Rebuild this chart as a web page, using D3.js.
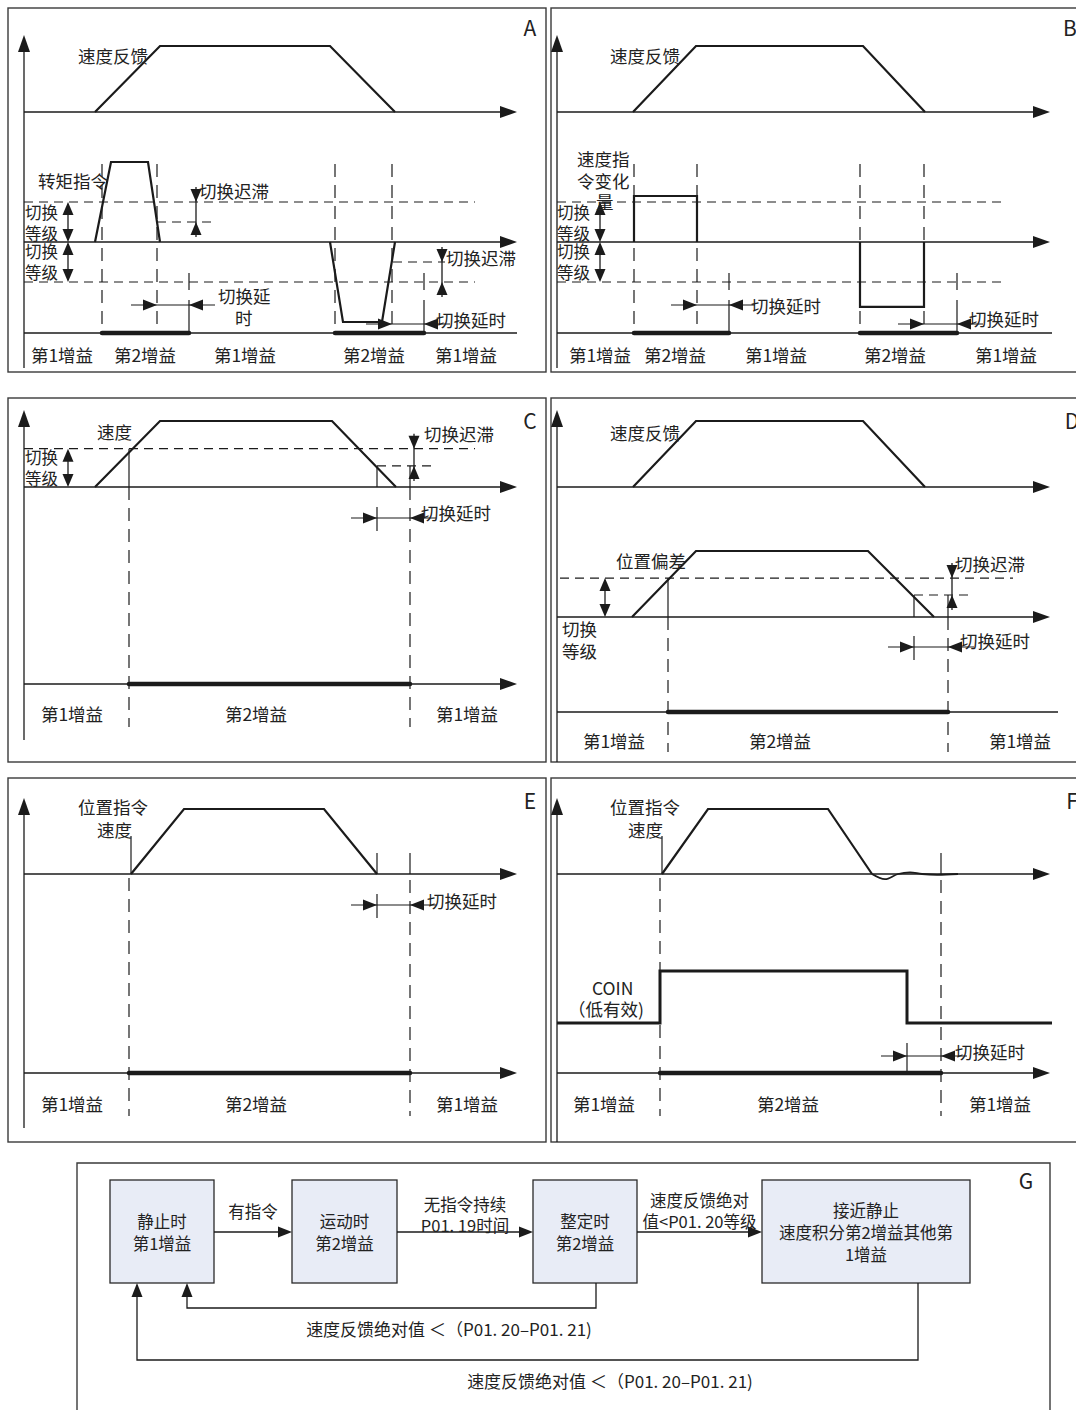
<!DOCTYPE html>
<html><head><meta charset="utf-8">
<script src="https://cdn.jsdelivr.net/npm/d3@7"></script>
<style>
body{margin:0;background:#fff}
svg{display:block}
text{font-family:"Noto Sans CJK SC","Noto Sans",sans-serif;fill:#222}
</style>
</head><body><script>
// ---------------- DATA (time t, signal value) ----------------
// Panel A
const speedA = [[71,0],[136,1],[306,1],[371,0]];
const torqueUpA = [[71,0],[87,1],[124,1],[136,0]];
const torqueDownA = [[306,0],[319,-1],[358,-1],[371,0]];
const levelsA = [0.5,-0.5];
const hystA = [[0.25,133,189],[-0.25,369,421]];
const vdashA = [78,133,311,368];
const vdashShortA = [165,400];
const gain2A = [[78,165],[311,400]];
const delayA = [[133,165],[368,400]];
const gainTextA = ["第1增益","第2增益","第1增益","第2增益","第1增益"];
const gainPosA = [38,121,221,350,442];
// Panel B
const speedB = [[76,0],[139,1],[306,1],[368,0]];
const cmdUpB = [[77,0],[77,0.575],[140,0.575],[140,0]];
const cmdDownB = [[303,0],[303,-0.81],[367,-0.81],[367,0]];
const levelsB = [0.5,-0.5];
const vdashB = [77,140,303,367];
const vdashShortB = [172,400];
const gain2B = [[77,172],[303,400]];
const delayB = [[140,172],[367,400]];
const gainTextB = ["第1增益","第2增益","第1增益","第2增益","第1增益"];
const gainPosB = [43,118,219,338,449];
// Panel C
const speedC = [[71,0],[136,1],[308,1],[372,0]];
const levelC = 0.58, hystC = 0.32;
const hystSpanC = [353,407];
const switchC = [105,386];
const delayC = [[353,386]];
const gain2C = [[105,386]];
const gainTextC = ["第1增益","第2增益","第1增益"];
const gainPosC = [48,232,443];
// Panel D
const speedD = [[76,0],[139,1],[306,1],[368,0]];
const posErrD = [[75,0],[139,1],[311,1],[377,0]];
const levelD = 0.59, hystD = 0.333;
const hystSpanD = [357,411];
const switchD = [111,391];
const delayD = [[357,391]];
const gain2D = [[111,391]];
const gainTextD = ["第1增益","第2增益","第1增益"];
const gainPosD = [57,223,463];
// Panel E
const speedE = [[107,0],[160,1],[300,1],[353,0]];
const switchE = [105,386];
const delayE = [[353,386]];
const gain2E = [[105,386]];
const gainTextE = ["第1增益","第2增益","第1增益"];
const gainPosE = [48,232,443];
// Panel F
const speedF = [[105,0],[151,1],[271,1],[315,0]];
const waveF = [[315,0],[328,-0.08],[341,0],[353,0.025],[365,0],[380,-0.012],[401,0]];
const coinF = [[0,0],[103,0],[103,1],[350,1],[350,0],[495,0]];
const switchF = [103,384];
const delayF = [[350,384]];
const gain2F = [[103,384]];
const gainTextF = ["第1增益","第2增益","第1增益"];
const gainPosF = [47,231,443];
// Panel G
const boxLines = [["静止时","第1增益"],["运动时","第2增益"],["整定时","第2增益"],["接近静止","速度积分第2增益其他第","1增益"]];
const flowLabels = [["有指令"],["无指令持续","P01. 19时间"],["速度反馈绝对","值<P01. 20等级"]];
const returnLabels = ["速度反馈绝对值 ＜（P01. 20–P01. 21)","速度反馈绝对值 ＜（P01. 20–P01. 21)"];

// ---------------- DRAWING ----------------
const svg = d3.select("body").append("svg").attr("width",1076).attr("height",1410);
const INK = "#1b1b1b";
const FS = 17.5, FSS = 16.5;

const xs = x0 => d3.scaleLinear().domain([0,500]).range([x0,x0+500]);
const ys = (base,top) => d3.scaleLinear().domain([0,1]).range([base,top]);

function poly(g, pts, xS, yS, w, curve){
  const gen = d3.line().x(d=>xS(d[0])).y(d=>yS(d[1]));
  if(curve) gen.curve(curve);
  g.append("path").attr("d",gen(pts)).attr("fill","none").attr("stroke",INK)
   .attr("stroke-width",w).attr("stroke-linejoin","miter");
}
function seg(g,x1,y1,x2,y2,w,dash,color){
  const l = g.append("line").attr("x1",x1).attr("y1",y1).attr("x2",x2).attr("y2",y2)
   .attr("stroke",color||INK).attr("stroke-width",w||1.2);
  if(dash) l.attr("stroke-dasharray",dash);
  return l;
}
function head(g,x,y,dir,len,hw){
  len=len||13; hw=hw||5;
  let p;
  if(dir==="r") p=[[x,y],[x-len,y-hw],[x-len,y+hw]];
  if(dir==="l") p=[[x,y],[x+len,y-hw],[x+len,y+hw]];
  if(dir==="u") p=[[x,y],[x-hw,y+len],[x+hw,y+len]];
  if(dir==="d") p=[[x,y],[x-hw,y-len],[x+hw,y-len]];
  g.append("path").attr("d","M"+p.map(q=>q.join(",")).join("L")+"Z").attr("fill",INK);
}
function txt(g,s,x,y,anchor,size){
  g.append("text").attr("x",x).attr("y",y).attr("dominant-baseline","central")
   .attr("text-anchor",anchor||"start").attr("font-size",size||FS).text(s);
}
function axisH(g,x1,x2,y,arrow){
  seg(g,x1,y,arrow?x2-8:x2,y,1.3);
  if(arrow) head(g,x2,y,"r",17,6);
}
function yAxis(g,x,yb,yt){
  seg(g,x,yb,x,yt+8,1.3);
  head(g,x,yt,"u",17,6);
}
function border(g,x,y,w,h){
  g.append("rect").attr("x",x).attr("y",y).attr("width",w).attr("height",h)
   .attr("fill","none").attr("stroke","#3a3a3a").attr("stroke-width",1.4);
}
function gainBars(g,bars,xS,y){
  bars.forEach(b=>seg(g,xS(b[0]),y,xS(b[1]),y,4.5).attr("stroke-linecap","round"));
}
function gainTexts(g,texts,pos,xS,y){
  texts.forEach((s,i)=>txt(g,s,xS(pos[i]),y,"middle"));
}
function delay(g,t1,t2,xS,y){
  const a=xS(t1), b=xS(t2);
  seg(g,a-26,y,b+26,y,1.2);
  head(g,a,y,"r",14,5.5);
  head(g,b,y,"l",14,5.5);
}
function dimOut(g,x,y1,y2){
  seg(g,x,y1+6,x,y2-6,1.3);
  head(g,x,y1,"u",13,5.5);
  head(g,x,y2,"d",13,5.5);
}
function dimIn(g,x,yTop,yBot){
  seg(g,x,yTop-15,x,yBot+15,1.3);
  head(g,x,yTop,"d",13,5.5);
  head(g,x,yBot,"u",13,5.5);
}
const HD = "9,6", VD = "13,8";

// ===== Panel A =====
{
  const g = svg.append("g");
  border(g,8,8,538,364);
  const x = xs(24), y1 = ys(112,46), y2 = ys(242,162), yb = 333;
  yAxis(g,24,368,35);
  axisH(g,24,517,112,true); axisH(g,24,517,242,true); axisH(g,24,517,yb,false);
  levelsA.forEach(v=>seg(g,x(0),y2(v),x(451),y2(v),1.2,HD));
  hystA.forEach(h=>seg(g,x(h[1]),y2(h[0]),x(h[2]),y2(h[0]),1.2,HD));
  vdashA.forEach(t=>seg(g,x(t),164,x(t),yb,1.2,VD));
  vdashShortA.forEach(t=>seg(g,x(t),273,x(t),yb,1.2,"17,10,40"));
  poly(g,speedA,x,y1,2.2);
  poly(g,torqueUpA,x,y2,2.2);
  poly(g,torqueDownA,x,y2,2.2);
  gainBars(g,gain2A,x,yb);
  dimOut(g,68,y2(0.5),y2(0));
  dimOut(g,68,y2(0),y2(-0.5));
  dimIn(g,196,y2(0.5),y2(0.25));
  dimIn(g,442,y2(-0.25),y2(-0.5));
  delay(g,delayA[0][0],delayA[0][1],x,305);
  delay(g,delayA[1][0],delayA[1][1],x,324);
  txt(g,"速度反馈",78,55);
  txt(g,"转矩指令",38,180);
  txt(g,"切换迟滞",199,190);
  txt(g,"切换",25,212,"start",FSS); txt(g,"等级",25,233,"start",FSS);
  txt(g,"切换",25,251,"start",FSS); txt(g,"等级",25,272,"start",FSS);
  txt(g,"切换延",218,295); txt(g,"时",235,317);
  txt(g,"切换迟滞",446,257);
  txt(g,"切换延时",436,319);
  gainTexts(g,gainTextA,gainPosA,x,354);
  txt(g,"A",530,27,"middle",21);
}
// ===== Panel B =====
{
  const g = svg.append("g");
  border(g,551,8,540,364);
  const x = xs(557), y1 = ys(112,46), y2 = ys(242,162), yb = 333;
  yAxis(g,557,368,35);
  axisH(g,557,1050,112,true); axisH(g,557,1050,242,true); axisH(g,557,1052,yb,false);
  levelsB.forEach(v=>seg(g,x(0),y2(v),x(449),y2(v),1.2,HD));
  vdashB.forEach(t=>seg(g,x(t),164,x(t),yb,1.2,VD));
  vdashShortB.forEach(t=>seg(g,x(t),273,x(t),yb,1.2,"17,10,40"));
  poly(g,speedB,x,y1,2.2);
  poly(g,cmdUpB,x,y2,2.2);
  poly(g,cmdDownB,x,y2,2.2);
  gainBars(g,gain2B,x,yb);
  dimOut(g,600,y2(0.5),y2(0));
  dimOut(g,600,y2(0),y2(-0.5));
  delay(g,delayB[0][0],delayB[0][1],x,305);
  delay(g,delayB[1][0],delayB[1][1],x,324);
  txt(g,"速度反馈",610,55);
  txt(g,"速度指",577,158); txt(g,"令变化",577,180); txt(g,"量",596,201);
  txt(g,"切换",557,212,"start",FSS); txt(g,"等级",557,233,"start",FSS);
  txt(g,"切换",557,251,"start",FSS); txt(g,"等级",557,272,"start",FSS);
  txt(g,"切换延时",751,305);
  txt(g,"切换延时",969,318);
  gainTexts(g,gainTextB,gainPosB,x,354);
  txt(g,"B",1070,27,"middle",21);
}
// ===== Panel C =====
{
  const g = svg.append("g");
  border(g,8,398,538,364);
  const x = xs(24), y1 = ys(487,421), yb = 684;
  yAxis(g,24,740,410);
  axisH(g,24,517,487,true); axisH(g,24,517,yb,true);
  seg(g,x(0),y1(levelC),x(451),y1(levelC),1.2,HD);
  seg(g,x(hystSpanC[0]),y1(hystC),x(hystSpanC[1]),y1(hystC),1.2,HD);
  seg(g,x(switchC[0]),y1(levelC),x(switchC[0]),487,1.2);
  seg(g,x(switchC[0]),487,x(switchC[0]),727,1.2,VD);
  seg(g,x(switchC[1]),y1(hystC),x(switchC[1]),487,1.2);
  seg(g,x(switchC[1]),487,x(switchC[1]),727,1.2,VD);
  seg(g,x(delayC[0][0]),y1(hystC),x(delayC[0][0]),487,1.2);
  seg(g,x(delayC[0][0]),507,x(delayC[0][0]),531,1.2);
  poly(g,speedC,x,y1,2.2);
  gainBars(g,gain2C,x,yb);
  dimOut(g,68,y1(levelC),487);
  dimIn(g,414,y1(levelC),y1(hystC));
  delay(g,delayC[0][0],delayC[0][1],x,518);
  txt(g,"速度",97,431);
  txt(g,"切换",25,457,"start",FSS); txt(g,"等级",25,478,"start",FSS);
  txt(g,"切换迟滞",424,433);
  txt(g,"切换延时",421,512);
  gainTexts(g,gainTextC,gainPosC,x,713);
  txt(g,"C",530,420,"middle",21);
}
// ===== Panel D =====
{
  const g = svg.append("g");
  border(g,551,398,540,364);
  const x = xs(557), y1 = ys(487,421), y2 = ys(617,551), yb = 712;
  yAxis(g,557,762,410);
  axisH(g,557,1050,487,true); axisH(g,557,1050,617,true); axisH(g,557,1058,yb,false);
  seg(g,x(3),y2(levelD),x(456),y2(levelD),1.2,HD);
  seg(g,x(hystSpanD[0]),y2(hystD),x(hystSpanD[1]),y2(hystD),1.2,HD);
  seg(g,x(switchD[0]),y2(levelD),x(switchD[0]),617,1.2);
  seg(g,x(switchD[0]),617,x(switchD[0]),752,1.2,VD);
  seg(g,x(switchD[1]),y2(hystD),x(switchD[1]),617,1.2);
  seg(g,x(switchD[1]),617,x(switchD[1]),752,1.2,VD);
  seg(g,x(delayD[0][0]),y2(hystD),x(delayD[0][0]),617,1.2);
  seg(g,x(delayD[0][0]),636,x(delayD[0][0]),660,1.2);
  poly(g,speedD,x,y1,2.2);
  poly(g,posErrD,x,y2,2.2);
  gainBars(g,gain2D,x,yb);
  dimOut(g,605,y2(levelD),617);
  dimIn(g,952,y2(levelD),y2(hystD));
  delay(g,delayD[0][0],delayD[0][1],x,647);
  txt(g,"速度反馈",610,432);
  txt(g,"位置偏差",616,560);
  txt(g,"切换迟滞",955,563);
  txt(g,"切换",562,628); txt(g,"等级",562,650);
  txt(g,"切换延时",960,640);
  gainTexts(g,gainTextD,gainPosD,x,740);
  txt(g,"D",1072,420,"middle",21);
}
// ===== Panel E =====
{
  const g = svg.append("g");
  border(g,8,778,538,364);
  const x = xs(24), y1 = ys(874,809), yb = 1073;
  yAxis(g,24,1128,798);
  axisH(g,24,517,874,true); axisH(g,24,517,yb,true);
  seg(g,x(speedE[0][0]),836,x(speedE[0][0]),874,1.2);
  seg(g,x(switchE[0]),878,x(switchE[0]),1116,1.2,VD);
  seg(g,x(delayE[0][0]),853,x(delayE[0][0]),874,1.2);
  seg(g,x(delayE[0][0]),894,x(delayE[0][0]),918,1.2);
  seg(g,x(switchE[1]),853,x(switchE[1]),874,1.2);
  seg(g,x(switchE[1]),880,x(switchE[1]),1116,1.2,VD);
  poly(g,speedE,x,y1,2.2);
  gainBars(g,gain2E,x,yb);
  delay(g,delayE[0][0],delayE[0][1],x,905);
  txt(g,"位置指令",78,806);
  txt(g,"速度",97,829);
  txt(g,"切换延时",427,900);
  gainTexts(g,gainTextE,gainPosE,x,1103);
  txt(g,"E",530,800,"middle",21);
}
// ===== Panel F =====
{
  const g = svg.append("g");
  border(g,551,778,540,364);
  const x = xs(557), y1 = ys(874,809), y3 = ys(1023,971), yb = 1073;
  yAxis(g,557,1142,798);
  axisH(g,557,1050,874,true); axisH(g,557,1050,yb,true);
  seg(g,x(speedF[0][0]),836,x(speedF[0][0]),874,1.2);
  seg(g,x(switchF[0]),878,x(switchF[0]),1116,1.2,VD);
  seg(g,x(switchF[1]),853,x(switchF[1]),874,1.2);
  seg(g,x(switchF[1]),880,x(switchF[1]),1116,1.2,VD);
  seg(g,x(delayF[0][0]),1043,x(delayF[0][0]),1073,1.2);
  poly(g,speedF,x,y1,2.2);
  poly(g,waveF,x,y1,1.8,d3.curveCatmullRom);
  poly(g,coinF,x,y3,3);
  gainBars(g,gain2F,x,yb);
  delay(g,delayF[0][0],delayF[0][1],x,1056);
  txt(g,"位置指令",610,806);
  txt(g,"速度",628,829);
  txt(g,"COIN",592,987);
  txt(g,"（低有效)",568,1008);
  txt(g,"切换延时",955,1051);
  gainTexts(g,gainTextF,gainPosF,x,1103);
  txt(g,"F",1072,800,"middle",21);
}
// ===== Panel G =====
{
  const g = svg.append("g");
  g.append("path").attr("d","M77,1420V1163H1050V1420").attr("fill","none").attr("stroke","#3a3a3a").attr("stroke-width",1.4);
  const boxes = [[110,214],[292,397],[533,637],[762,970]];
  const bTop = 1180, bBot = 1283, midY = 1232;
  boxes.forEach((b,i)=>{
    g.append("rect").attr("x",b[0]).attr("y",bTop).attr("width",b[1]-b[0]).attr("height",bBot-bTop)
     .attr("fill","#e8ecf6").attr("stroke","#2a2a2a").attr("stroke-width",1.3);
    const lines = boxLines[i], cx = (b[0]+b[1])/2, lh = 22;
    const y0 = (i===3 ? 1210 : 1221);
    lines.forEach((s,j)=>txt(g,s,cx,y0+j*lh,"middle",16.5));
  });
  for(let i=0;i<3;i++){
    const a = boxes[i][1], b = boxes[i+1][0];
    seg(g,a,midY,b-10,midY,1.3);
    head(g,b,midY,"r",14,5.5);
    const cx=(a+b)/2, lab = flowLabels[i];
    const y0 = lab.length===1 ? 1211 : (i===1 ? 1204 : 1200);
    lab.forEach((s,j)=>txt(g,s,cx,y0+j*21,"middle",16.5));
  }
  g.append("path").attr("d",`M596,${bBot}V1308H187V${bBot+12}`).attr("fill","none").attr("stroke",INK).attr("stroke-width",1.3);
  head(g,187,bBot,"u",14,5.5);
  g.append("path").attr("d",`M918,${bBot}V1360H137V${bBot+12}`).attr("fill","none").attr("stroke",INK).attr("stroke-width",1.3);
  head(g,137,bBot,"u",14,5.5);
  txt(g,returnLabels[0],449,1328,"middle",17);
  txt(g,returnLabels[1],610,1380,"middle",17);
  txt(g,"G",1026,1180,"middle",21);
}
</script></body></html>
